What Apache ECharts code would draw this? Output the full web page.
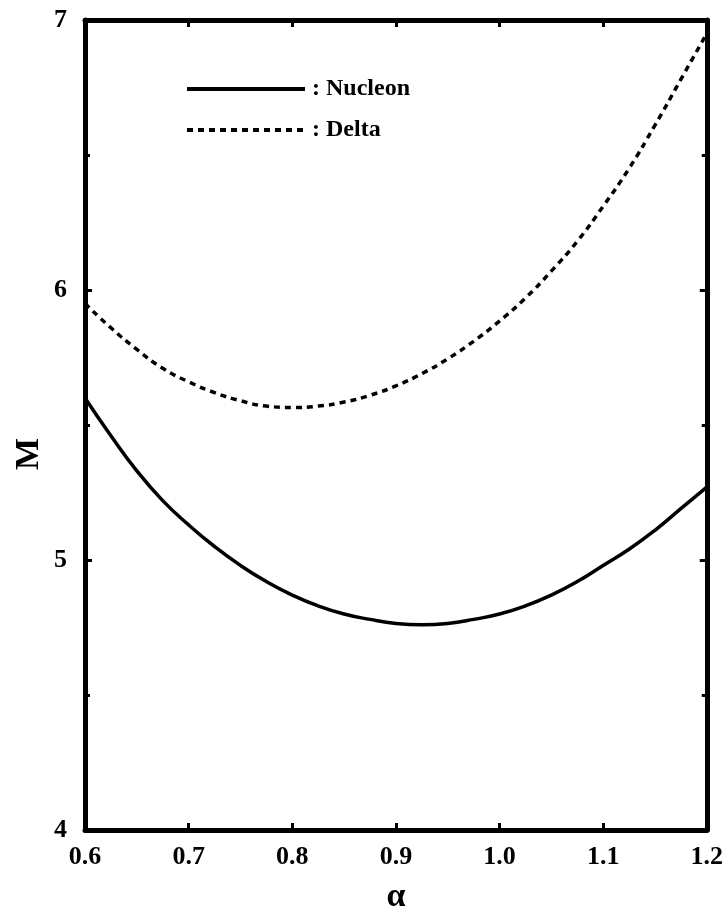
<!DOCTYPE html>
<html>
<head>
<meta charset="utf-8">
<script src="https://cdn.jsdelivr.net/npm/echarts@6/dist/echarts.min.js"></script>
<style>
html,body{margin:0;padding:0;background:#fff;}
#chart{width:726px;height:920px;}
</style>
</head>
<body>
<div id="chart"></div>
<script>
const alphaValues = [0.600,0.625,0.650,0.675,0.700,0.725,0.750,0.775,0.800,0.825,0.850,0.875,0.900,
                     0.925,0.950,0.975,1.000,1.025,1.050,1.075,1.100,1.125,1.150,1.175,1.200];
const massNucleon = [5.60,5.46,5.33,5.22,5.13,5.05,4.98,4.92,4.87,4.83,4.80,4.78,4.765,
                     4.76,4.765,4.78,4.80,4.83,4.87,4.92,4.98,5.04,5.11,5.19,5.27];
const massDelta   = [5.95,5.86,5.78,5.71,5.66,5.62,5.59,5.57,5.565,5.57,5.585,5.61,5.645,
                     5.69,5.745,5.81,5.885,5.97,6.07,6.18,6.31,6.45,6.61,6.78,6.95];
const xTicks = [0.6,0.7,0.8,0.9,1.0,1.1,1.2];
const yTicks = [4,5,6,7];
const seriesNames = [': Nucleon', ': Delta'];

const font = 'Liberation Serif';
const chart = echarts.init(document.getElementById('chart'));
const frame = {show:true, lineStyle:{color:'#000', width:5}};
const tick = {show:true, inside:true, length:7, lineStyle:{color:'#000', width:3}};
const minor = {show:true, splitNumber:2, length:5, lineStyle:{color:'#000', width:3}};
chart.setOption({
  animation:false,
  backgroundColor:'#fff',
  grid:{left:85, right:19, top:20, bottom:90},
  legend:{
    orient:'vertical', left:180, top:72, itemWidth:118, itemHeight:16, itemGap:17,
    itemStyle:{opacity:0},
    lineStyle:{width:4},
    textStyle:{fontFamily:font, fontWeight:'bold', fontSize:24, color:'#000', padding:[0,0,0,2]},
    data:seriesNames
  },
  xAxis:[{
    type:'value', min:0.6, max:1.2, interval:0.1,
    name:'α', nameLocation:'middle', nameGap:50,
    nameTextStyle:{fontFamily:font, fontWeight:'bold', fontSize:34, color:'#000'},
    axisLine:frame, axisTick:tick,
    axisLabel:{fontFamily:font, fontWeight:'bold', fontSize:26, color:'#000', margin:14,
      formatter:v=>v.toFixed(1)},
    splitLine:{show:false}
  },{
    type:'value', position:'top', min:0.6, max:1.2, interval:0.1,
    axisLine:frame, axisTick:tick,
    axisLabel:{show:false}, splitLine:{show:false}
  }],
  yAxis:[{
    type:'value', min:4, max:7, interval:1,
    axisLine:frame, axisTick:tick, minorTick:minor,
    axisLabel:{fontFamily:font, fontWeight:'bold', fontSize:26, color:'#000', margin:18},
    splitLine:{show:false}
  },{
    type:'value', position:'right', min:4, max:7, interval:1,
    axisLine:frame, axisTick:tick, minorTick:minor,
    axisLabel:{show:false}, splitLine:{show:false}
  }],
  graphic:[{
    type:'text',
    style:{text:'M', fontFamily:font, fontWeight:'bold', fontSize:34, fill:'#000'},
    rotation:Math.PI/2, x:12, y:470
  }],
  series:[{
    name:seriesNames[0], type:'line', smooth:true, symbol:'none',
    lineStyle:{color:'#000', width:3.5, type:'solid'},
    itemStyle:{color:'#000'},
    data:alphaValues.map((a,i)=>[a, massNucleon[i]])
  },{
    name:seriesNames[1], type:'line', smooth:true, symbol:'none',
    lineStyle:{color:'#000', width:3.5, type:[6,5]},
    itemStyle:{color:'#000'},
    data:alphaValues.map((a,i)=>[a, massDelta[i]])
  }]
});
</script>
</body>
</html>
